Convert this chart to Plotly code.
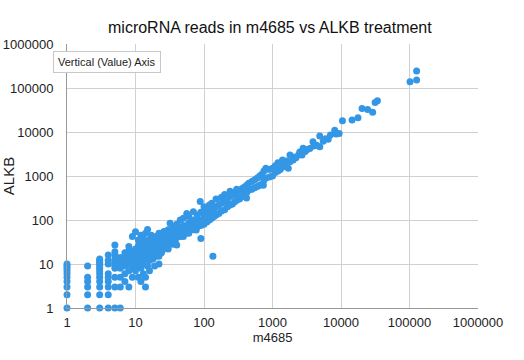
import plotly.graph_objects as go

title_text = "microRNA reads in m4685 vs ALKB treatment"
x_title = "m4685"
y_title = "ALKB"
tick_vals = [1, 10, 100, 1000, 10000, 100000, 1000000]
tick_text = ["1", "10", "100", "1000", "10000", "100000", "1000000"]

# low-count integer points
low_x = [1]*10 + [2]*6 + [3]*13 + [4]*9 + [5]*11 + [6]*7
low_y = [1, 2, 3, 4, 5, 6, 7, 8, 9, 10,
         1, 2, 3, 4, 5, 9,
         1, 2, 3, 4, 5, 6, 7, 8, 9, 10, 11, 12, 13,
         1, 2, 3, 4, 5, 6, 10, 12, 16,
         1, 3, 5, 8, 9, 10, 11, 13, 16, 19, 27,
         1, 3, 5, 8, 10, 12, 14]

# scattered cluster 7-100
mid_x = [7, 7, 7, 7, 7, 7, 7, 8, 8, 8, 8, 8, 8, 8, 8, 9, 9, 9, 9, 9, 9, 9,
         10, 10, 10, 10, 10, 10, 10, 11, 11, 11, 11, 11, 11, 12, 12, 12, 12, 12, 12, 12,
         13, 13, 13, 13, 13, 13, 14, 14, 14, 14, 14, 14, 14, 15, 15, 15, 15, 15,
         16, 16, 16, 16, 16, 17, 17, 17, 17, 17, 18, 18, 18, 18, 19, 19, 19, 19,
         20, 20, 20, 20, 22, 22, 22, 22, 22, 22, 24, 24, 24, 24, 26, 26, 26, 26,
         28, 28, 28, 30, 30, 30, 30, 32, 32, 32, 35, 35, 35, 35, 38, 38, 38,
         40, 40, 40, 40, 45, 45, 45, 45, 50, 50, 50, 50, 56, 55, 55, 60, 60, 60, 60,
         70, 70, 70, 70, 77, 80, 80, 80, 88, 90, 90, 90, 90]
mid_y = [4, 6, 9, 11, 13, 15, 18, 3, 7, 10, 12, 14, 17, 20, 25, 5, 8, 11, 13, 16, 19, 42,
         7, 10, 12, 15, 18, 22, 54, 5, 9, 14, 20, 26, 35, 4, 8, 12, 17, 23, 30, 45,
         6, 10, 15, 20, 28, 38, 3, 5, 13, 18, 24, 32, 50, 61, 9, 16, 22, 30,
         7, 12, 20, 27, 36, 14, 19, 25, 33, 45, 13, 22, 30, 40, 9, 17, 26, 35,
         15, 23, 30, 42, 10, 15, 20, 28, 38, 50, 18, 25, 33, 45, 22, 30, 40, 55,
         25, 35, 48, 22, 30, 40, 60, 84, 35, 50, 28, 38, 55, 70, 32, 45, 62,
         27, 40, 55, 80, 100, 42, 50, 65, 42, 60, 75, 110, 141, 50, 70, 50, 65, 85, 120,
         155, 60, 80, 100, 59, 70, 95, 130, 262, 38, 75, 100, 150]

# main diagonal band 100+
band_x = [100, 100, 100, 100, 110, 110, 110, 120, 120, 120, 135, 130, 130, 130,
          140, 140, 150, 150, 150, 165, 165, 180, 180, 180, 200, 200, 200, 213,
          220, 220, 240, 240, 240, 260, 260, 280, 280, 300, 300, 300, 330, 330,
          360, 360, 390, 390, 418, 420, 420, 450, 450, 500, 500, 550, 550, 600, 600,
          650, 650, 700, 700, 735, 750, 750, 800, 800, 900, 900, 1000, 1000, 1100,
          1100, 1200, 1200, 1300, 1400, 1400, 1500, 1600, 1700, 1800, 1800, 2000,
          2000, 2200, 2400, 2500, 2700, 2800, 3000, 3200, 3500, 3900, 4000, 4400,
          4900, 4900, 5500, 6000, 6500, 7000, 8100, 8500, 9400]
band_y = [80, 110, 140, 200, 90, 130, 170, 100, 150, 220, 15, 110, 160, 240,
          120, 180, 130, 200, 300, 140, 220, 160, 240, 330, 170, 260, 380, 285,
          200, 300, 220, 340, 450, 230, 380, 260, 420, 280, 350, 500, 300, 470,
          340, 520, 380, 560, 315, 420, 620, 480, 680, 500, 750, 540, 820, 580, 900,
          620, 1000, 650, 1100, 620, 800, 1300, 900, 1500, 950, 1400, 1000, 1500, 1200,
          1700, 1300, 2000, 1400, 1600, 2300, 1800, 2200, 1500, 2100, 3000, 2300,
          2700, 2600, 3000, 3500, 3000, 4300, 3600, 4000, 4200, 6000, 4800, 5000,
          4600, 8100, 6200, 7000, 6800, 8500, 11000, 9000, 9300]

# high counts
high_x = [10500, 14500, 17700, 20300, 24500, 29000, 31500, 34000, 101700, 127000, 127000]
high_y = [18000, 18700, 21000, 34000, 32500, 28000, 47000, 51000, 139000, 152000, 245000]

xs = low_x + mid_x + band_x + high_x
ys = low_y + mid_y + band_y + high_y

fig = go.Figure(go.Scatter(
    x=xs, y=ys, mode="markers",
    marker=dict(color="#3497e6", size=7, line=dict(width=0)),
    cliponaxis=False, showlegend=False, hoverinfo="skip",
))

font_family = "Liberation Sans, Arial, sans-serif"
fig.update_layout(
    width=524, height=360,
    margin=dict(l=67, r=46, t=44, b=52, autoexpand=False),
    paper_bgcolor="white", plot_bgcolor="white",
    hovermode=False,
    font=dict(family=font_family, size=13, color="#222"),
    title=dict(text=title_text, x=0.515, xanchor="center", y=0.925, yanchor="middle",
               font=dict(size=16, color="#111")),
    xaxis=dict(type="log", range=[0, 6], tickvals=tick_vals, ticktext=tick_text,
               automargin=False,
               showgrid=True, gridcolor="#d0d0d0", gridwidth=1,
               showline=True, linecolor="#999", linewidth=1, zeroline=False,
               ticks="", ticklabelstandoff=2,
               title=dict(text=x_title, standoff=0, font=dict(size=13))),
    yaxis=dict(type="log", range=[0, 6], tickvals=tick_vals, ticktext=tick_text,
               automargin=False,
               showgrid=True, gridcolor="#d0d0d0", gridwidth=1,
               showline=True, linecolor="#999", linewidth=1, zeroline=False,
               ticks="", ticklabelstandoff=10,
               title=dict(text=y_title, standoff=0, font=dict(size=15))),
    annotations=[dict(text="Vertical (Value) Axis", xref="paper", yref="paper",
                      x=-0.034, y=0.932, xanchor="left", yanchor="middle",
                      showarrow=False, bgcolor="white", bordercolor="#c8c8c8",
                      borderwidth=1, borderpad=4, font=dict(size=11, color="#222"))],
)

fig.write_html(
    "out.html",
    config={"displayModeBar": False},
    post_script="document.body.style.margin='0';document.body.style.padding='0';",
)
